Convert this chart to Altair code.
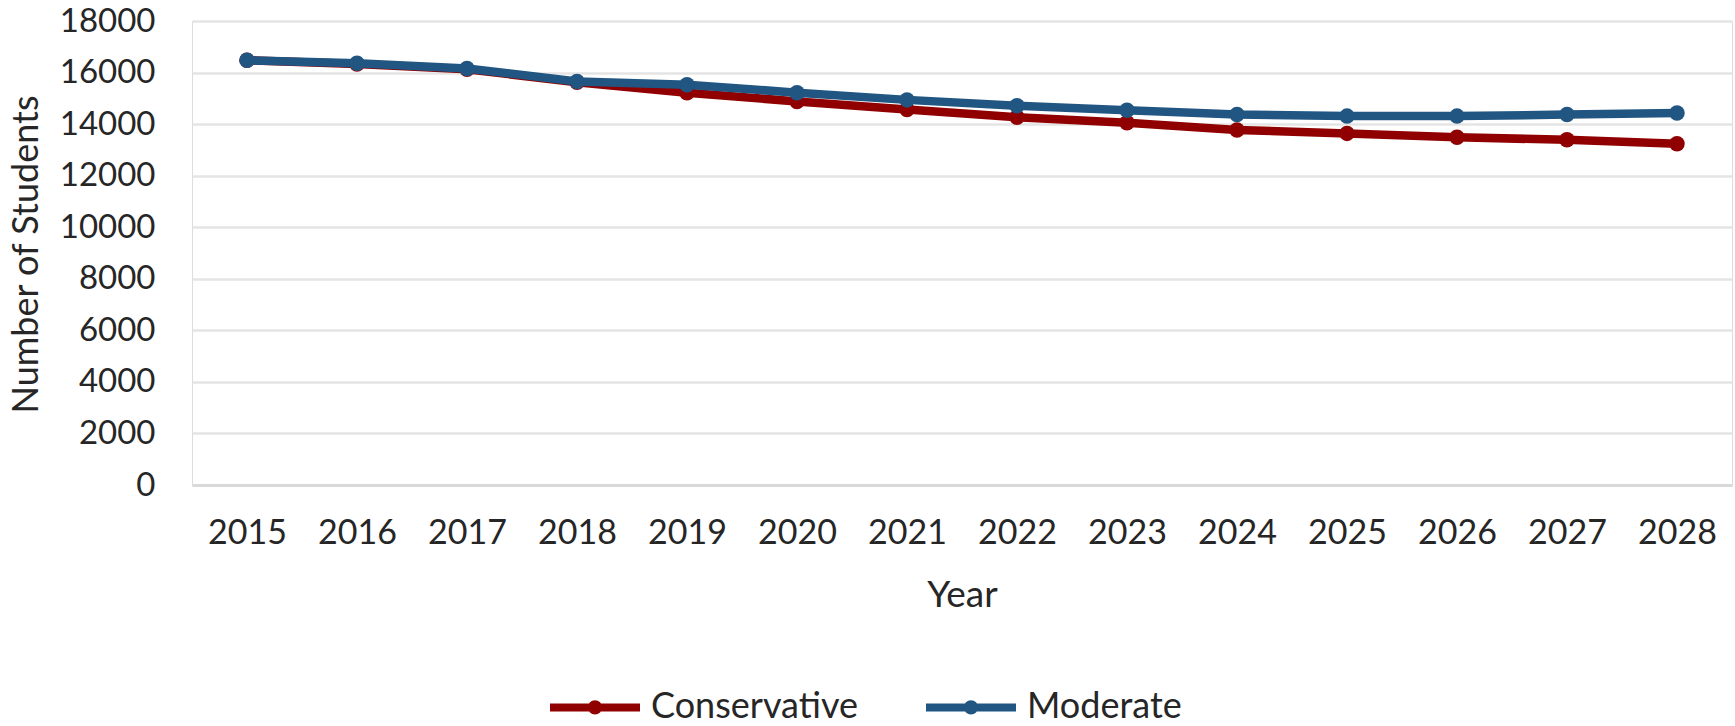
import altair as alt
import pandas as pd

years = [str(y) for y in range(2015, 2029)]
conservative = [16480, 16330, 16130, 15620, 15220, 14880, 14570, 14270, 14050, 13770, 13640, 13490, 13390, 13240]
moderate = [16480, 16360, 16160, 15650, 15530, 15220, 14940, 14710, 14540, 14370, 14310, 14310, 14370, 14430]
series = ["Conservative", "Moderate"]
colors = ["#900000", "#215582"]
y_ticks = list(range(0, 18001, 2000))

rows = []
for name, vals in zip(series, [conservative, moderate]):
    for yr, v in zip(years, vals):
        rows.append({"Year": yr, "Students": v, "Scenario": name})
df = pd.DataFrame(rows)

FONT = "Lato"
TXT = "#262626"

legend_path = ("M-1,0L1,0"
               "M-0.07,0A0.07,0.07,0,1,0,0.07,0A0.07,0.07,0,1,0,-0.07,0")

color = alt.Color(
    "Scenario:N",
    scale=alt.Scale(domain=series, range=colors),
    sort=series,
    legend=alt.Legend(
        title=None, orient="none", direction="horizontal",
        legendX=354, legendY=637,
        symbolType=legend_path, symbolSize=8100, symbolStrokeWidth=8,
        labelFont=FONT, labelFontSize=36, labelColor=TXT, labelLimit=0,
        labelOffset=7, columnPadding=52, padding=0,
    ),
)

x = alt.X(
    "Year:O", sort=years,
    scale=alt.Scale(type="point", padding=0.5),
    axis=alt.Axis(
        title="Year", titleFont=FONT, titleFontSize=37, titleFontWeight="normal",
        titleColor=TXT, titleX=770, titleY=110, titleBaseline="middle", titleAlign="center",
        labelFont=FONT, labelFontSize=34, labelColor=TXT, labelAngle=0,
        labelPadding=48, labelBaseline="middle",
        ticks=False, tickSize=0, domain=True, domainColor="#D9D9D9", domainWidth=3,
        grid=False,
    ),
)
y = alt.Y(
    "Students:Q",
    scale=alt.Scale(domain=[0, 18000], nice=False, zero=True),
    axis=alt.Axis(
        title="Number of Students", titleFont=FONT, titleFontSize=36, titleFontWeight="normal",
        titleColor=TXT, titleAngle=-90, titleX=-166, titleY=233,
        titleAlign="center", titleBaseline="middle",
        values=y_ticks, format="d",
        labelFont=FONT, labelFontSize=33, labelColor=TXT,
        labelPadding=37, labelBaseline="middle",
        ticks=False, tickSize=0, domain=False,
        grid=True, gridColor="#E4E4E4", gridWidth=2.5,
    ),
)

base = alt.Chart(df)


def layer_for(name):
    sub = base.transform_filter(alt.datum.Scenario == name)
    return [
        sub.mark_line(strokeWidth=8.5).encode(x=x, y=y, color=color),
        sub.mark_circle(size=240, opacity=1).encode(x=x, y=y, color=color),
    ]


chart = alt.layer(
    *layer_for("Conservative"), *layer_for("Moderate")
).properties(
    width=1540, height=464,
    autosize=alt.AutoSizeParams(type="none"),
    padding={"left": 192, "top": 21, "right": 3, "bottom": 241},
).configure_view(stroke=None).configure(background="white")

chart.save("out.html", embed_options={"renderer": "svg", "actions": False})
